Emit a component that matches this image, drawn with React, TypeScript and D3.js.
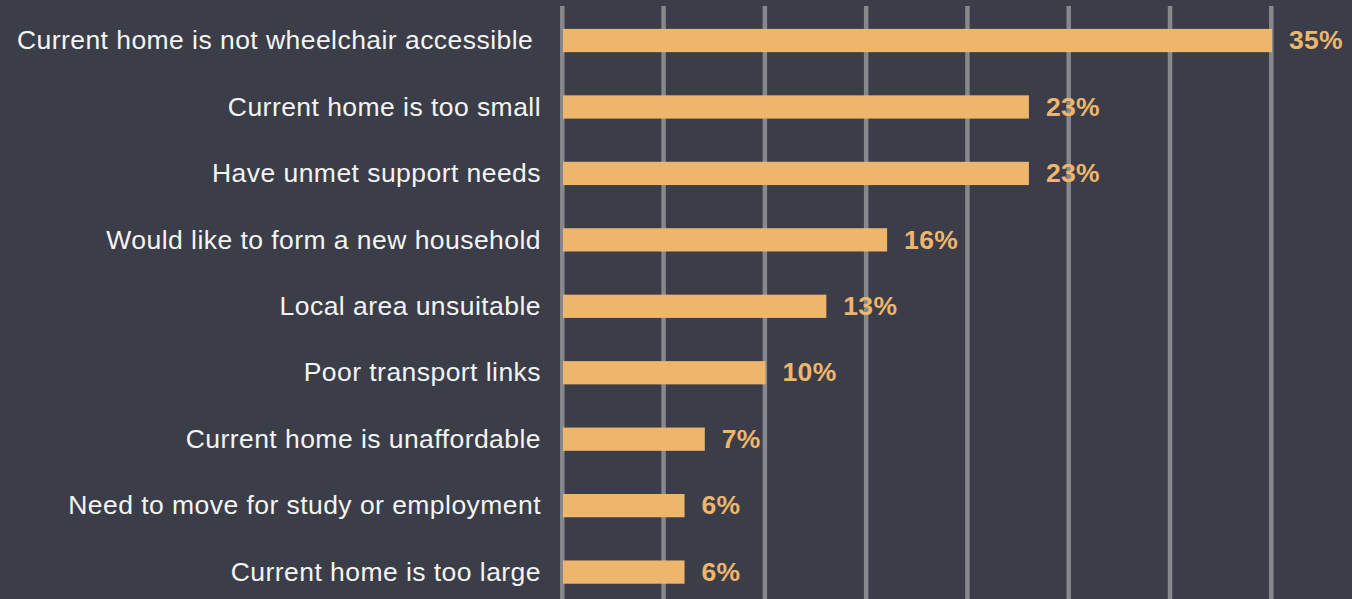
import React from "react";
import * as d3 from "d3";

const categories = [
  "Current home is not wheelchair accessible ",
  "Current home is too small",
  "Have unmet support needs",
  "Would like to form a new household",
  "Local area unsuitable",
  "Poor transport links",
  "Current home is unaffordable",
  "Need to move for study or employment",
  "Current home is too large",
];
const values = [35, 23, 23, 16, 13, 10, 7, 6, 6];
const gridTicks = [0, 5, 10, 15, 20, 25, 30, 35];

const W = 1352;
const H = 599;
const BG = "#3b3e48";
const BAR = "#eeb66d";
const GRID = "#86888d";

export default function App() {
  const x = d3.scaleLinear().domain([0, 35]).range([563, 1272]);
  const y = d3
    .scaleBand<string>()
    .domain(categories)
    .range([7.3, 605.3])
    .paddingInner(0.65)
    .paddingOuter(0.325);
  const bh = y.bandwidth();

  return (
    <div style={{ position: "fixed", left: 0, top: 0 }}>
      <svg width={W} height={H} style={{ display: "block" }} fontFamily="'Liberation Sans', Arial, sans-serif">
        <rect width={W} height={H} fill={BG} />
        {gridTicks.map((t) => (
          <line key={t} x1={x(t) - 0.7} x2={x(t) - 0.7} y1={6} y2={H} stroke={GRID} strokeWidth={4.5} />
        ))}
        {categories.map((c, i) => {
          const yc = (y(c) as number) + bh / 2;
          return (
            <g key={c}>
              <rect x={x(0)} y={y(c)} width={x(values[i]) - x(0)} height={bh} fill={BAR} />
              <text
                x={541}
                y={yc}
                dy="0.33em"
                textAnchor="end"
                fill="#f4f4f4"
                fontSize={26.5}
                letterSpacing={0.45}
                style={{ whiteSpace: "pre" }}
              >
                {c}
              </text>
              <text
                x={x(values[i]) + 17}
                y={yc}
                dy="0.33em"
                fill={BAR}
                fontSize={26.5}
                letterSpacing={0.3}
                fontWeight="bold"
              >
                {values[i]}%
              </text>
            </g>
          );
        })}
      </svg>
    </div>
  );
}
